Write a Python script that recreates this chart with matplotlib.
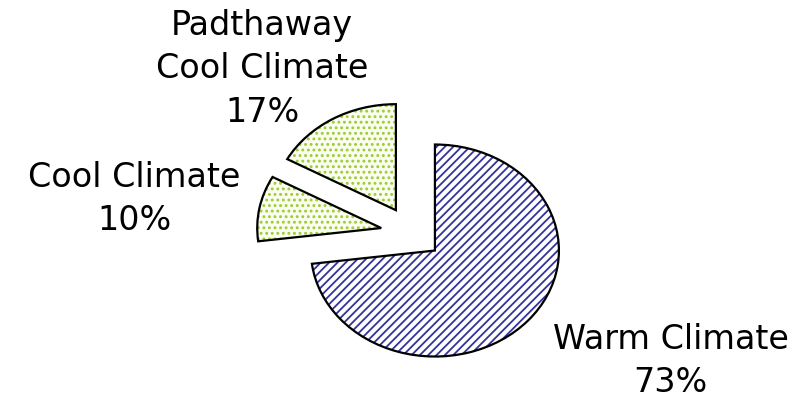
import matplotlib
matplotlib.use('Agg')
import matplotlib.pyplot as plt

# chart data
labels = ['Warm Climate', 'Cool Climate', 'Padthaway\nCool Climate']
shares = [73, 10, 17]
explode = [0.25, 0.25, 0.25]

hatches = ['////', '...', '...']
hatch_colors = ['#333399', '#99cc33', '#99cc33']
fills = ['white', '#fbfdf0', '#fbfdf0']

plt.rcParams['font.family'] = 'DejaVu Sans'
plt.rcParams['hatch.linewidth'] = 1.3

fig = plt.figure(figsize=(8.04, 3.99), dpi=100)
ax = fig.add_axes([0, 0, 1, 1])

# filled + hatched layer
wedges, _ = ax.pie(shares, explode=explode, startangle=90, counterclock=False)
for w, h, hc, fc in zip(wedges, hatches, hatch_colors, fills):
    w.set_facecolor(fc)
    w.set_edgecolor(hc)
    w.set_hatch(h)
    w.set_linewidth(0)

# black outline layer
outline, _ = ax.pie(shares, explode=explode, startangle=90, counterclock=False,
                    wedgeprops=dict(fill=False, edgecolor='black', linewidth=1.6))

ax.set_aspect('auto')
ax.set_xlim(-3.32, 3.164)
ax.set_ylim(-1.566, 2.198)
ax.axis('off')

# labels (Excel style, name + percent)
label_pos = [(2.09, -1.21), (-2.239, 0.32), (-1.207, 1.55)]
for name, val, (x, y) in zip(labels, shares, label_pos):
    ax.text(x, y, '%s\n%d%%' % (name, val), ha='center', va='center',
            fontsize=24, linespacing=1.4)

fig.savefig('out.png', dpi=100)
